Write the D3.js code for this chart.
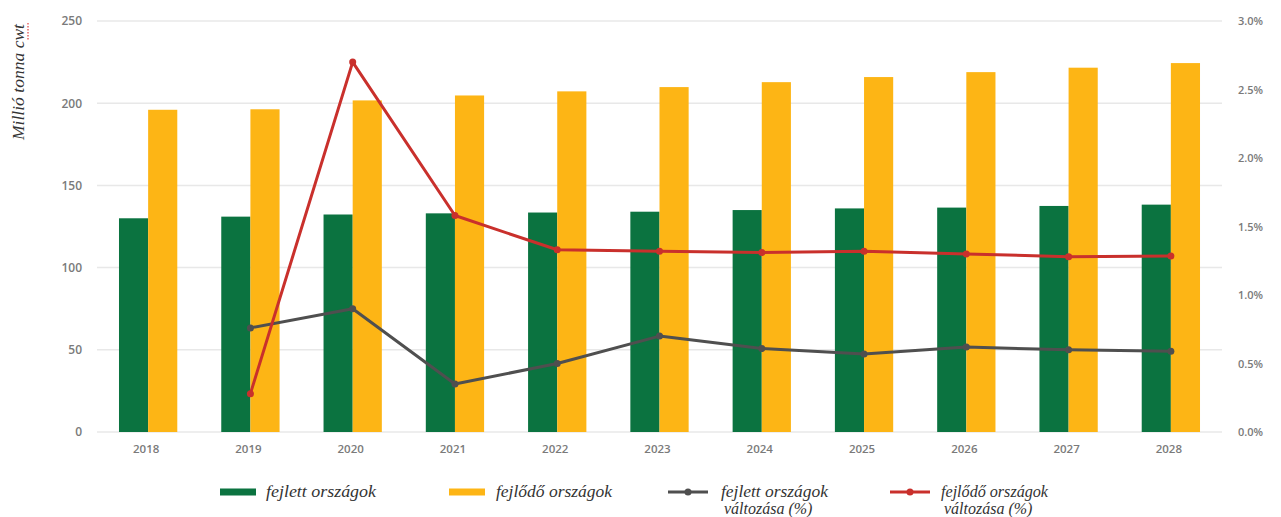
<!DOCTYPE html>
<html>
<head>
<meta charset="utf-8">
<script src="https://cdn.jsdelivr.net/npm/d3@7"></script>
<style>
  html, body { margin: 0; padding: 0; background: #ffffff; }
  svg { display: block; }
</style>
</head>
<body>
<svg id="chart" width="1281" height="517"></svg>
<script>
// ---- data ----
const years = ["2018","2019","2020","2021","2022","2023","2024","2025","2026","2027","2028"];
const developed = [130, 131, 132.3, 133, 133.5, 134, 135, 136, 136.5, 137.5, 138.3];
const developing = [196, 196.3, 201.7, 204.7, 207.2, 209.8, 212.8, 215.9, 218.9, 221.6, 224.4];
const developedChange = [null, 0.76, 0.90, 0.35, 0.50, 0.70, 0.61, 0.57, 0.62, 0.60, 0.59];
const developingChange = [null, 0.28, 2.70, 1.58, 1.33, 1.32, 1.31, 1.32, 1.30, 1.28, 1.285];
const leftTicks = [0, 50, 100, 150, 200, 250];
const rightTicks = [0, 0.5, 1.0, 1.5, 2.0, 2.5, 3.0];
const seriesNames = ["fejlett országok", "fejlődő országok", "fejlett országok|változása (%)", "fejlődő országok|változása (%)"];
const yTitle = "Millió tonna cwt";

const colors = { green: "#0b7340", orange: "#fdb515", gray: "#4f4f4f", red: "#c9302c", grid: "#e8e8e8", tick: "#7a7a7a" };

const svg = d3.select("#chart");
const plotL = 97, plotR = 1222, plotT = 21, plotB = 432;

const x = d3.scaleBand().domain(years).range([plotL, plotR]).paddingInner(0.43).paddingOuter(0.215);
const xSub = d3.scaleBand().domain([0, 1]).range([0, x.bandwidth()]);
const yL = d3.scaleLinear().domain([0, 250]).range([plotB, plotT]);
const yR = d3.scaleLinear().domain([0, 3.0]).range([plotB, plotT]);

// gridlines
svg.append("g").selectAll("line").data(leftTicks).join("line")
  .attr("x1", plotL).attr("x2", plotR)
  .attr("y1", d => yL(d)).attr("y2", d => yL(d))
  .attr("stroke", colors.grid).attr("stroke-width", 1.5);

// left axis
const axL = d3.axisLeft(yL).tickValues(leftTicks).tickSize(0).tickPadding(0);
const gL = svg.append("g").attr("transform", `translate(82,0)`).call(axL);
gL.select(".domain").remove();
gL.selectAll("text").attr("fill", colors.tick).style("font-family", "'Open Sans', sans-serif").style("font-size", "12px").style("font-weight", "600");

// right axis
const axR = d3.axisRight(yR).tickValues(rightTicks).tickSize(0).tickPadding(0).tickFormat(d => d.toFixed(1) + "%");
const gR = svg.append("g").attr("transform", `translate(1238,0)`).call(axR);
gR.select(".domain").remove();
gR.selectAll("text").attr("fill", colors.tick).style("font-family", "'Open Sans', sans-serif").style("font-size", "11px").style("font-weight", "600");

// x axis
const axX = d3.axisBottom(x).tickSize(0).tickPadding(0);
const gX = svg.append("g").attr("transform", `translate(-2,${plotB + 13})`).call(axX);
gX.select(".domain").remove();
gX.selectAll("text").attr("fill", colors.tick).style("font-family", "'Open Sans', sans-serif").style("font-size", "11.5px").style("font-weight", "600");

// bars
const groups = svg.append("g").selectAll("g").data(years).join("g")
  .attr("transform", d => `translate(${x(d)},0)`);
groups.append("rect")
  .attr("x", xSub(0)).attr("width", xSub.bandwidth())
  .attr("y", (d, i) => yL(developed[i])).attr("height", (d, i) => yL(0) - yL(developed[i]))
  .attr("fill", colors.green);
groups.append("rect")
  .attr("x", xSub(1)).attr("width", xSub.bandwidth())
  .attr("y", (d, i) => yL(developing[i])).attr("height", (d, i) => yL(0) - yL(developing[i]))
  .attr("fill", colors.orange);

// lines
function drawLine(vals, color) {
  const pts = years.map((yr, i) => ({ yr, v: vals[i] })).filter(p => p.v != null);
  const line = d3.line().x(p => x(p.yr) + x.bandwidth() / 2).y(p => yR(p.v));
  svg.append("path").datum(pts).attr("d", line)
    .attr("fill", "none").attr("stroke", color).attr("stroke-width", 3).attr("stroke-linejoin", "round");
  svg.append("g").selectAll("circle").data(pts).join("circle")
    .attr("cx", p => x(p.yr) + x.bandwidth() / 2).attr("cy", p => yR(p.v)).attr("r", 3.5)
    .attr("fill", color);
}
drawLine(developedChange, colors.gray);
drawLine(developingChange, colors.red);

// y title
svg.append("text")
  .attr("transform", `translate(24,82) rotate(-90)`)
  .attr("text-anchor", "middle")
  .attr("textLength", 116).attr("lengthAdjust", "spacingAndGlyphs")
  .style("font-family", "'Liberation Serif', serif").style("font-style", "italic").style("font-size", "16px")
  .attr("fill", "#333")
  .text(yTitle);
svg.append("line").attr("x1", 28).attr("x2", 28).attr("y1", 23).attr("y2", 40)
  .attr("stroke", "#e04040").attr("stroke-width", 1.2).attr("stroke-dasharray", "1.5,1.5");

// legend
const legendX = [220, 449, 668, 890];
const legendTextX = [266, 496, 721, 941];
const legendW = [110, 116, 107, 107];
const legendItems = seriesNames.map((n, i) => ({ n, i }));
const lg = svg.append("g");
legendItems.forEach(({ n, i }) => {
  if (i < 2) {
    lg.append("rect").attr("x", legendX[i]).attr("y", 488.5).attr("width", 36).attr("height", 7)
      .attr("fill", i === 0 ? colors.green : colors.orange);
  } else {
    const c = i === 2 ? colors.gray : colors.red;
    lg.append("line").attr("x1", legendX[i]).attr("x2", legendX[i] + 40).attr("y1", 492).attr("y2", 492)
      .attr("stroke", c).attr("stroke-width", 3);
    lg.append("circle").attr("cx", legendX[i] + 20).attr("cy", 492).attr("r", 3.5).attr("fill", c);
  }
  const lines = n.split("|");
  lines.forEach((t, k) => {
    const tx = lg.append("text").attr("x", legendTextX[i] + (k ? 3 : 0)).attr("y", 497 + k * 17)
      .style("font-family", "'Liberation Serif', serif").style("font-style", "italic").style("font-size", "16px")
      .attr("fill", "#333").text(t);
    if (k === 0) tx.attr("textLength", legendW[i]).attr("lengthAdjust", "spacingAndGlyphs");
  });
});
</script>
</body>
</html>
